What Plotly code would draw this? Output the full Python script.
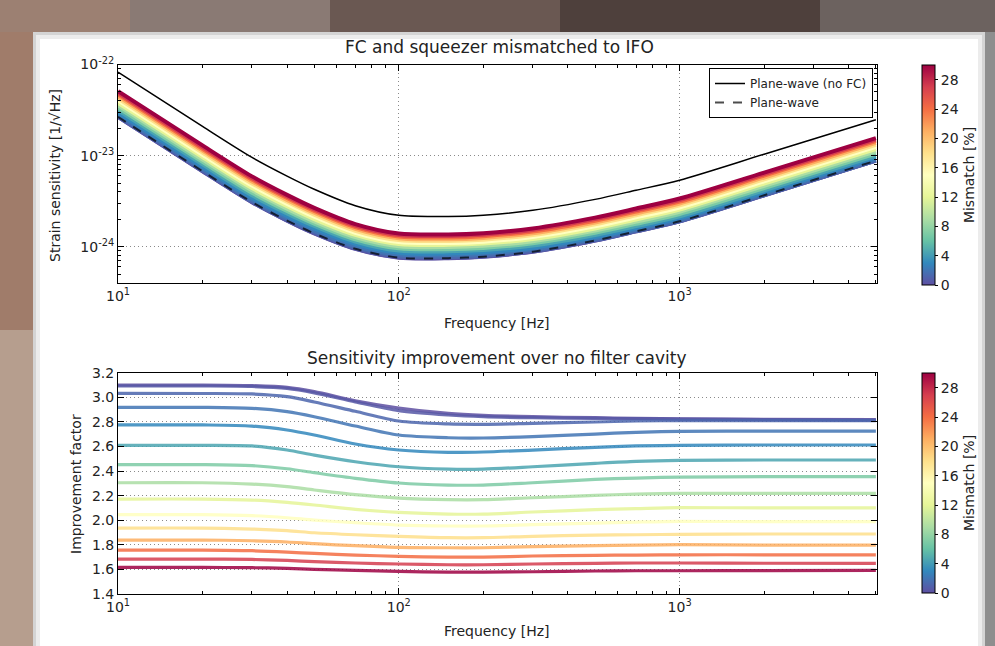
import plotly.graph_objects as go
from plotly.colors import sample_colorscale

W, H = 995, 646

# ---------------- data ----------------
freq = [10, 20, 30, 40, 50, 70, 100, 150, 200, 300, 500, 700, 1000, 2000, 5000]

# strain sensitivity without filter cavity [1/sqrt(Hz)]
no_fc = [8.24e-23, 2.09e-23, 9.55e-24, 5.96e-24, 4.27e-24, 2.82e-24, 2.21e-24,
         2.15e-24, 2.22e-24, 2.51e-24, 3.31e-24, 4.17e-24, 5.37e-24, 1.035e-23, 2.48e-23]

# mismatch [%] of each curve
mismatch = [0, 0.5, 1.2, 2, 3, 4.5, 7, 9, 12, 15, 18, 21, 24, 27, 30]

# improvement factor over no filter cavity, one list per mismatch value
imp_00 = [3.100, 3.100, 3.095, 3.081, 3.046, 2.972, 2.913, 2.869, 2.853, 2.842, 2.834, 2.829, 2.825, 2.820, 2.818]
imp_01 = [3.092, 3.092, 3.088, 3.072, 3.036, 2.962, 2.891, 2.856, 2.842, 2.834, 2.829, 2.826, 2.822, 2.818, 2.815]
imp_02 = [3.032, 3.031, 3.027, 3.005, 2.962, 2.886, 2.807, 2.783, 2.780, 2.788, 2.799, 2.807, 2.810, 2.810, 2.810]
imp_03 = [2.918, 2.918, 2.910, 2.883, 2.842, 2.766, 2.693, 2.671, 2.669, 2.680, 2.701, 2.715, 2.723, 2.725, 2.725]
imp_04 = [2.775, 2.775, 2.766, 2.734, 2.693, 2.620, 2.571, 2.552, 2.555, 2.571, 2.593, 2.604, 2.609, 2.612, 2.612]
imp_05 = [2.609, 2.609, 2.604, 2.571, 2.530, 2.476, 2.435, 2.416, 2.416, 2.435, 2.463, 2.479, 2.487, 2.490, 2.490]
imp_06 = [2.452, 2.452, 2.444, 2.419, 2.387, 2.341, 2.303, 2.286, 2.286, 2.305, 2.332, 2.343, 2.351, 2.354, 2.354]
imp_07 = [2.305, 2.305, 2.294, 2.273, 2.246, 2.208, 2.180, 2.167, 2.167, 2.183, 2.202, 2.213, 2.218, 2.219, 2.219]
imp_08 = [2.172, 2.172, 2.164, 2.145, 2.124, 2.088, 2.064, 2.050, 2.050, 2.067, 2.086, 2.094, 2.102, 2.100, 2.100]
imp_09 = [2.045, 2.045, 2.037, 2.020, 2.001, 1.980, 1.961, 1.953, 1.953, 1.964, 1.977, 1.985, 1.991, 1.988, 1.988]
imp_10 = [1.936, 1.936, 1.928, 1.915, 1.898, 1.882, 1.869, 1.858, 1.858, 1.869, 1.879, 1.882, 1.885, 1.888, 1.888]
imp_11 = [1.839, 1.839, 1.833, 1.823, 1.809, 1.793, 1.779, 1.776, 1.776, 1.785, 1.793, 1.798, 1.801, 1.798, 1.798]
imp_12 = [1.757, 1.757, 1.752, 1.741, 1.730, 1.717, 1.706, 1.700, 1.700, 1.709, 1.714, 1.717, 1.719, 1.719, 1.719]
imp_13 = [1.684, 1.684, 1.681, 1.673, 1.663, 1.652, 1.644, 1.638, 1.638, 1.644, 1.649, 1.652, 1.652, 1.650, 1.649]
imp_14 = [1.616, 1.616, 1.614, 1.608, 1.600, 1.592, 1.584, 1.578, 1.578, 1.581, 1.587, 1.589, 1.589, 1.590, 1.592]

improvements = [imp_00, imp_01, imp_02, imp_03, imp_04, imp_05, imp_06, imp_07,
                imp_08, imp_09, imp_10, imp_11, imp_12, imp_13, imp_14]

x_tickvals = [10, 100, 1000]
x_ticktext = ["10<sup>1</sup>", "10<sup>2</sup>", "10<sup>3</sup>"]
x_minor = [20, 30, 40, 50, 60, 70, 80, 90, 200, 300, 400, 500, 600, 700, 800, 900,
           2000, 3000, 4000, 5000]
y1_tickvals = [1e-24, 1e-23, 1e-22]
y1_ticktext = ["10<sup>-24</sup>", "10<sup>-23</sup>", "10<sup>-22</sup>"]
y1_minor = [5e-25, 6e-25, 7e-25, 8e-25, 9e-25, 2e-24, 3e-24, 4e-24, 5e-24, 6e-24, 7e-24,
            8e-24, 9e-24, 2e-23, 3e-23, 4e-23, 5e-23, 6e-23, 7e-23, 8e-23, 9e-23]
y2_tickvals = [1.4, 1.6, 1.8, 2.0, 2.2, 2.4, 2.6, 2.8, 3.0, 3.2]
cbar_ticks = [0, 4, 8, 12, 16, 20, 24, 28]
cmax = 30

# ---------------- helpers ----------------
def px(x):
    return x / W

def py(y):
    return 1 - y / H

FONT = "DejaVu Sans"
TXT = "#222222"
colors = [sample_colorscale("Spectral_r", [m / cmax])[0] for m in mismatch]
spl = dict(shape="spline", smoothing=0.8)

fig = go.Figure()

# top panel band
for m, imp, c in zip(mismatch, improvements, colors):
    fig.add_trace(go.Scatter(
        x=freq, y=[n / v for n, v in zip(no_fc, imp)], mode="lines",
        line=dict(color=c, width=4, **spl),
        xaxis="x", yaxis="y", showlegend=False, hoverinfo="skip"))

fig.add_trace(go.Scatter(
    x=freq, y=no_fc, mode="lines", name="Plane-wave (no FC)",
    line=dict(color="black", width=1.5, **spl), xaxis="x", yaxis="y"))
fig.add_trace(go.Scatter(
    x=freq, y=[n / v for n, v in zip(no_fc, imp_00)], mode="lines", name="Plane-wave",
    line=dict(color="black", width=2, dash="dash", **spl),
    xaxis="x", yaxis="y", opacity=0.7))

# bottom panel
for m, imp, c in zip(mismatch, improvements, colors):
    fig.add_trace(go.Scatter(
        x=freq, y=imp, mode="lines", line=dict(color=c, width=3.2, **spl),
        opacity=0.85, xaxis="x2", yaxis="y2", showlegend=False, hoverinfo="skip"))

# colorbars
for xa, ya, ycen, yv in (("x", "y", 175, 1e-22), ("x2", "y2", 483, 3.2)):
    fig.add_trace(go.Scatter(
        x=[10, 10], y=[yv, yv], mode="markers",
        marker=dict(color=[0, cmax], cmin=0, cmax=cmax, colorscale="Spectral_r", size=0.1,
                    opacity=0, showscale=True,
                    colorbar=dict(x=px(922), xanchor="left", y=py(ycen), yanchor="middle",
                                  len=220 / H, lenmode="fraction", thickness=13,
                                  xpad=0, ypad=0, outlinewidth=1, outlinecolor="black",
                                  tickvals=cbar_ticks, ticks="outside", ticklen=3,
                                  tickcolor="black",
                                  tickfont=dict(size=14, color=TXT, family=FONT),
                                  title=dict(text="Mismatch [%]", side="right",
                                             font=dict(size=14, color=TXT, family=FONT)))),
        xaxis=xa, yaxis=ya, showlegend=False, hoverinfo="skip"))

axis_common = dict(showline=True, linecolor="black", linewidth=1, mirror="ticks",
                   ticks="inside", ticklen=6, tickcolor="black",
                   showgrid=True, gridcolor="#8a8a8a", griddash="1px,3px", gridwidth=1,
                   zeroline=False, tickfont=dict(size=14, color=TXT, family=FONT))
minor_x = dict(tickmode="array", tickvals=x_minor, ticks="inside", ticklen=3,
               tickcolor="black", showgrid=False)
minor_y = dict(tickmode="array", tickvals=y1_minor, ticks="inside", ticklen=3,
               tickcolor="black", showgrid=False)

xdom = [px(118), px(877)]
fig.update_layout(
    width=W, height=H, margin=dict(l=0, r=0, t=0, b=0, autoexpand=False),
    paper_bgcolor="#6e5a53", plot_bgcolor="white",
    font=dict(family=FONT, color=TXT),
    xaxis=dict(type="log", range=[1, 3.703], domain=xdom, anchor="y",
               tickvals=x_tickvals, ticktext=x_ticktext, minor=minor_x, **axis_common),
    yaxis=dict(type="log", range=[-24.398, -22.0], domain=[py(283), py(64.5)], anchor="x",
               tickvals=y1_tickvals, ticktext=y1_ticktext, minor=minor_y, **axis_common),
    xaxis2=dict(type="log", range=[1, 3.703], domain=xdom, anchor="y2",
                tickvals=x_tickvals, ticktext=x_ticktext, minor=minor_x, **axis_common),
    yaxis2=dict(range=[1.4, 3.2], domain=[py(594), py(372.7)], anchor="x2",
                tickvals=y2_tickvals, tickformat=".1f", **axis_common),
    legend=dict(x=px(709), y=py(68), xanchor="left", yanchor="top",
                bgcolor="white", bordercolor="black", borderwidth=1,
                font=dict(size=12, color=TXT, family=FONT),
                itemwidth=30, tracegroupgap=0),
    showlegend=True,
)

# background (blurred photo) and white panel
shapes = [
    dict(x0=0, x1=px(130), y0=py(32), y1=1, fillcolor="#9c8072"),
    dict(x0=px(130), x1=px(330), y0=py(32), y1=1, fillcolor="#8a7a74"),
    dict(x0=px(330), x1=px(560), y0=py(32), y1=1, fillcolor="#6a5852"),
    dict(x0=px(560), x1=px(820), y0=py(32), y1=1, fillcolor="#4e403c"),
    dict(x0=px(820), x1=1, y0=py(32), y1=1, fillcolor="#6c625f"),
    dict(x0=0, x1=px(33), y0=py(330), y1=py(32), fillcolor="#a07c6a"),
    dict(x0=0, x1=px(33), y0=0, y1=py(330), fillcolor="#b69e8e"),
    dict(x0=px(985), x1=1, y0=0, y1=py(32), fillcolor="#8e8e8e"),
    dict(x0=px(33), x1=px(985), y0=0, y1=py(32), fillcolor="#d4d4d4"),
    dict(x0=px(36), x1=px(982), y0=0, y1=py(35), fillcolor="#ececec"),
    dict(x0=px(40), x1=px(978), y0=0, y1=py(39), fillcolor="#ffffff"),
]
fig.update_layout(shapes=[dict(type="rect", xref="paper", yref="paper", layer="below",
                               line=dict(width=0), **s) for s in shapes])

ann = [
    dict(x=px(500), y=py(47), text="FC and squeezer mismatched to IFO", size=17),
    dict(x=px(497), y=py(358), text="Sensitivity improvement over no filter cavity", size=17),
    dict(x=px(497), y=py(323), text="Frequency [Hz]", size=14),
    dict(x=px(497), y=py(631), text="Frequency [Hz]", size=14),
    dict(x=px(55), y=py(176), text="Strain sensitivity [1/√Hz]", size=14, angle=-90),
    dict(x=px(76), y=py(484), text="Improvement factor", size=14, angle=-90),
]
fig.update_layout(annotations=[
    dict(x=a["x"], y=a["y"], xref="paper", yref="paper", text=a["text"], showarrow=False,
         xanchor="center", yanchor="middle", textangle=a.get("angle", 0),
         font=dict(size=a["size"], color=TXT, family=FONT)) for a in ann])

fig.write_html(
    "out.html",
    config={"displayModeBar": False},
    post_script="document.body.style.margin='0';document.body.style.overflow='hidden';")
